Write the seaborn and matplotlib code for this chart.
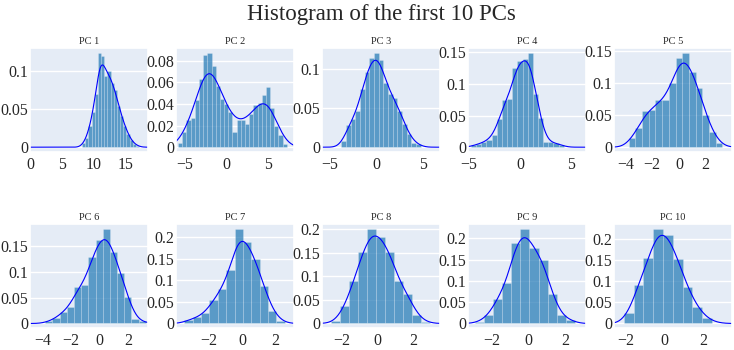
"""
pc_histograms.py
================
Histogram + KDE of the first 10 principal components (2 x 5 grid).
"""

import numpy as np
import pandas as pd
import matplotlib.pyplot as plt
import seaborn as sns
from matplotlib.ticker import MultipleLocator, FuncFormatter

# ─────────────────────────────────────────
# DATA (bar heights, bin width 0.5)
# ─────────────────────────────────────────

PC_NAMES = ["PC 1", "PC 2", "PC 3", "PC 4", "PC 5",
            "PC 6", "PC 7", "PC 8", "PC 9", "PC 10"]

BIN_WIDTH = 0.5
BIN_START = [8.2, -5.75, -3.75, -4.75, -3.75, -3.8, -3.45, -2.58, -2.95, -2.07]

pc1 = [0.005, 0.012, 0.028, 0.047, 0.070, 0.124, 0.120, 0.094, 0.100, 0.085,
       0.076, 0.054, 0.041, 0.028, 0.017, 0.009, 0.004, 0.002]
pc2 = [0.004, 0.014, 0.025, 0.027, 0.044, 0.063, 0.085, 0.087, 0.075, 0.057,
       0.045, 0.040, 0.033, 0.014, 0.025, 0.025, 0.021, 0.031, 0.039, 0.041,
       0.048, 0.056, 0.036, 0.020, 0.011, 0.003]
pc3 = [0.008, 0.028, 0.036, 0.047, 0.075, 0.097, 0.115, 0.121, 0.112, 0.083,
       0.068, 0.063, 0.047, 0.030, 0.017, 0.006, 0.004]
pc4 = [0.003, 0.005, 0.008, 0.012, 0.020, 0.045, 0.074, 0.076, 0.125, 0.137,
       0.140, 0.149, 0.085, 0.047, 0.009, 0.008, 0.006, 0.004]
pc5 = [0.015, 0.030, 0.057, 0.058, 0.073, 0.073, 0.100, 0.140, 0.147, 0.117,
       0.092, 0.050, 0.024, 0.006]
pc6 = [0.004, 0.010, 0.023, 0.032, 0.071, 0.075, 0.128, 0.161, 0.182, 0.139,
       0.098, 0.052, 0.008, 0.004]
pc7 = [0.008, 0.014, 0.024, 0.055, 0.080, 0.125, 0.218, 0.189, 0.150, 0.087,
       0.030, 0.006]
pc8 = [0.005, 0.036, 0.090, 0.152, 0.199, 0.184, 0.152, 0.090, 0.062, 0.019,
       0.003]
pc9 = [0.004, 0.019, 0.058, 0.096, 0.190, 0.221, 0.177, 0.150, 0.069, 0.019,
       0.008]
pc10 = [0.025, 0.092, 0.155, 0.222, 0.210, 0.153, 0.085, 0.039, 0.012, 0.002]

HEIGHTS = [pc1, pc2, pc3, pc4, pc5, pc6, pc7, pc8, pc9, pc10]

# x range covered by each component (data min / max)
X_RANGE = [(0.0, 18.6), (-6.0, 8.1), (-5.8, 6.8), (-5.05, 6.4), (-4.85, 3.95),
           (-4.85, 3.35), (-3.95, 3.1), (-3.1, 3.46), (-3.33, 3.15), (-2.58, 3.44)]
X_STEP = [5, 5, 5, 5, 2, 2, 2, 2, 2, 2]
Y_STEP = [0.05, 0.02, 0.05, 0.05, 0.05, 0.05, 0.05, 0.05, 0.05, 0.05]


# ─────────────────────────────────────────
# STYLE
# ─────────────────────────────────────────

sns.set_theme(style="darkgrid", rc={"axes.facecolor": "#E5ECF6",
                                    "grid.color": "white",
                                    "grid.linewidth": 1.0})
plt.rcParams['font.family'] = ['Liberation Serif', 'DejaVu Serif']
plt.rcParams['axes.unicode_minus'] = True


def fmt_num(v, _pos=None):
    if abs(v) < 1e-12:
        return "0"
    return f"{v:g}".replace("-", "\u2212")


# ─────────────────────────────────────────
# PLOT
# ─────────────────────────────────────────

fig, axes = plt.subplots(2, 5, figsize=(7.34, 3.5), dpi=100)
fig.subplots_adjust(left=0.041, right=0.997, top=0.863, bottom=0.063,
                    wspace=0.238, hspace=0.70)

for i, ax in enumerate(axes.flat):
    h = np.array(HEIGHTS[i])
    edges = BIN_START[i] + BIN_WIDTH * np.arange(len(h) + 1)
    df = pd.DataFrame({"x": edges[:-1] + BIN_WIDTH / 2, "w": h})
    lo, hi = X_RANGE[i]

    sns.histplot(data=df, x="x", weights="w", bins=list(edges), stat="count",
                 kde=True,
                 kde_kws={"bw_adjust": 0.55, "cut": 40, "clip": (lo, hi)},
                 color="#1f77b4", alpha=0.7, edgecolor=(1, 1, 1, 0.35),
                 linewidth=0.4, ax=ax)
    line = ax.lines[-1]
    line.set_color("blue")
    line.set_linewidth(0.8)

    top = h.max() * 1.055
    ax.set_xlim(lo, hi)
    ax.set_ylim(-0.045 * top, top)
    ax.grid(axis="x", visible=False)
    ax.xaxis.set_major_locator(MultipleLocator(X_STEP[i]))
    ax.yaxis.set_major_locator(MultipleLocator(Y_STEP[i]))
    ax.xaxis.set_major_formatter(FuncFormatter(fmt_num))
    ax.yaxis.set_major_formatter(FuncFormatter(fmt_num))
    ax.tick_params(axis="both", length=0, labelsize=11.4)
    ax.tick_params(axis="y", pad=1.2)
    ax.tick_params(axis="x", pad=3.5)
    ax.set_ylabel("")
    ax.set_xlabel("")
    ax.set_title(PC_NAMES[i], fontsize=7.5, pad=3)

fig.text(0.519, 0.958, "Histogram of the first 10 PCs",
         ha="center", va="center", fontsize=16.5)

plt.savefig("out.png", dpi=100)
plt.close()
